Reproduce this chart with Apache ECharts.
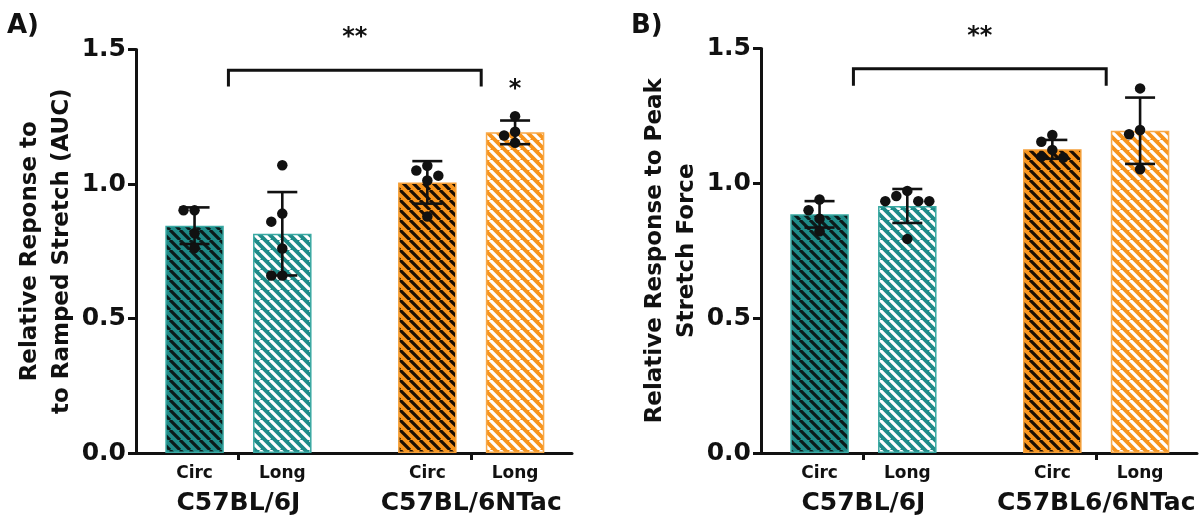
<!DOCTYPE html>
<html><head><meta charset="utf-8">
<script src="https://cdn.jsdelivr.net/npm/echarts@6/dist/echarts.min.js"></script>
<style>html,body{margin:0;padding:0;background:#fff}#c{width:1200px;height:521px}</style>
</head><body><div id="c"></div>
<script>
// ---------- data ----------
const subCats = ['Circ', 'Long'];
const groupsA = ['C57BL/6J', 'C57BL/6NTac'];
const groupsB = ['C57BL/6J', 'C57BL6/6NTac'];
const yTickLabels = ['0.0', '0.5', '1.0', '1.5'];

// Panel A: relative response to ramped stretch (AUC)
const meanA_Circ = [0.845, 1.006];
const meanA_Long = [0.815, 1.192];
const sdA_Circ = [0.068, 0.079];
const sdA_Long = [0.155, 0.044];
const dotsA_Circ = [[0.902, 0.902, 0.817, 0.762], [1.068, 1.050, 1.031, 1.013, 0.879]];
const dotsA_Long = [[1.070, 0.890, 0.860, 0.760, 0.660, 0.660], [1.252, 1.194, 1.180, 1.153]];

// Panel B: relative response to peak stretch force
const meanB_Circ = [0.885, 1.126];
const meanB_Long = [0.916, 1.195];
const sdB_Circ = [0.049, 0.035];
const sdB_Long = [0.063, 0.123];
const dotsB_Circ = [[0.940, 0.900, 0.869, 0.822], [1.179, 1.154, 1.124, 1.099, 1.096]];
const dotsB_Long = [[0.972, 0.953, 0.934, 0.934, 0.934, 0.794], [1.352, 1.198, 1.182, 1.052]];

// significance annotations: [fromGroup, toGroup, barTop, barDrop, textY]
const bracketA = [0, 1, 1.423, 1.362, 1.545];
const bracketB = [0, 1, 1.425, 1.362, 1.545];
const bracketText = '**';
// single star above panel A, group 1, Long: [group, y]
const starA = [1, 1.35];

// ---------- styles ----------
const FONT = 'DejaVu Sans';
const BAR_W = 58.5;
const BAR_GAP = 0.5;
const SLOT_OFF = (BAR_W + BAR_W * BAR_GAP) / 2;
const DOT = 10.5;
const SWARM_STEP = 11;
const TEAL = '#1f8b88';
const ORANGE = '#f7941d';

function stripe(bg, fg) {
  const s = 10;
  const cv = document.createElement('canvas');
  cv.width = s; cv.height = s;
  const ctx = cv.getContext('2d');
  ctx.fillStyle = bg; ctx.fillRect(0, 0, s, s);
  ctx.strokeStyle = fg; ctx.lineWidth = 3.2;
  ctx.beginPath();
  for (let k = -1; k <= 1; k++) { ctx.moveTo(k * s, 0); ctx.lineTo(k * s + s, s); }
  ctx.stroke();
  return { image: cv, repeat: 'repeat' };
}
const fills = [
  [stripe(TEAL, '#0b1a1a'), stripe(TEAL, '#ffffff')],
  [stripe(ORANGE, '#1a0d02'), stripe(ORANGE, '#ffffff')]
];
const borders = [['#3aa9a3', '#3aa9a3'], ['#f5a03a', '#f7a94a']];

function slotOffset(slot) { return slot === 0 ? -SLOT_OFF : SLOT_OFF; }

function barSeries(axis, slot, means) {
  return {
    type: 'bar', name: subCats[slot], xAxisIndex: axis, yAxisIndex: axis,
    barWidth: BAR_W, barGap: (BAR_GAP * 100) + '%', z: 2,
    data: means.map((m, g) => ({
      value: [g, m],
      itemStyle: { color: fills[g][slot], borderColor: borders[g][slot], borderWidth: 1.5 }
    })),
    label: {
      show: true, position: ['50%', '100%'], offset: [0, 12], align: 'center', verticalAlign: 'top',
      formatter: () => subCats[slot], fontFamily: FONT, fontWeight: 'bold', fontSize: 17, color: '#111'
    },
    animation: false
  };
}

function swarm(ys) {
  const placed = [];
  const order = [0, -1, 1, -2, 2, -3, 3];
  return ys.map(y => {
    for (const k of order) {
      const x = k * SWARM_STEP;
      if (placed.every(p => Math.hypot(p[0] - x, p[1] - y) >= SWARM_STEP)) {
        placed.push([x, y]);
        return x;
      }
    }
    placed.push([0, y]);
    return 0;
  });
}

function errDotSeries(axis, slot, means, sds, dots) {
  return {
    type: 'custom', xAxisIndex: axis, yAxisIndex: axis, z: 5,
    data: means.map((m, g) => [g, m]),
    encode: { x: 0, y: 1 },
    renderItem: (params, api) => {
      const i = params.dataIndex;
      const g = api.value(0), m = api.value(1), sd = sds[i];
      const cx = api.coord([g, m])[0] + slotOffset(slot);
      const top = api.coord([g, m + sd])[1];
      const bot = api.coord([g, m - sd])[1];
      const cap = 15;
      const ls = { stroke: '#111', lineWidth: 2.6 };
      const children = [
        { type: 'line', shape: { x1: cx, y1: top, x2: cx, y2: bot }, style: ls },
        { type: 'line', shape: { x1: cx - cap, y1: top, x2: cx + cap, y2: top }, style: ls },
        { type: 'line', shape: { x1: cx - cap, y1: bot, x2: cx + cap, y2: bot }, style: ls }
      ];
      const vals = dots[i].slice().sort((a, b) => b - a);
      const ys = vals.map(v => api.coord([g, v])[1]);
      const xs = swarm(ys);
      ys.forEach((y, j) => children.push({
        type: 'circle', shape: { cx: cx + xs[j], cy: y, r: DOT / 2 }, style: { fill: '#111' }
      }));
      return { type: 'group', children };
    },
    animation: false
  };
}

function bracketSeries(axis, br, extra) {
  return {
    type: 'custom', xAxisIndex: axis, yAxisIndex: axis, z: 6, clip: false,
    data: [[br[0], br[2]]],
    encode: { x: 0, y: 1 },
    renderItem: (params, api) => {
      const x0 = api.coord([br[0], br[2]])[0] - 10;
      const x1 = api.coord([br[1], br[2]])[0] + 10;
      const yt = api.coord([br[0], br[2]])[1];
      const yd = api.coord([br[0], br[3]])[1];
      const ytx = api.coord([br[0], br[4]])[1];
      const children = [
        { type: 'polyline', shape: { points: [[x0, yd], [x0, yt], [x1, yt], [x1, yd]] },
          style: { stroke: '#111', lineWidth: 3, fill: null } },
        { type: 'text', x: (x0 + x1) / 2, y: ytx,
          style: { text: bracketText, fontFamily: FONT, fontWeight: 'bold', fontSize: 24, fill: '#111',
                   align: 'center', verticalAlign: 'middle' } }
      ];
      if (extra) {
        const p = api.coord([extra[0], extra[1]]);
        children.push({ type: 'text', x: p[0] + SLOT_OFF, y: p[1],
          style: { text: '*', fontFamily: FONT, fontWeight: 'bold', fontSize: 24, fill: '#111',
                   align: 'center', verticalAlign: 'middle' } });
      }
      return { type: 'group', children };
    },
    animation: false
  };
}

const axisLineStyle = { color: '#111', width: 3 };
function xAxisDef(idx, groups) {
  return {
    type: 'value', gridIndex: idx, min: -0.44, max: 1.433,
    splitLine: { show: false },
    axisLine: { show: true, onZero: false, lineStyle: axisLineStyle },
    axisTick: { show: true, customValues: [0, 1], length: 7, lineStyle: { color: '#111', width: 3 } },
    axisLabel: { show: true, customValues: [0, 1], formatter: v => groups[Math.round(v)], margin: 38,
                 fontFamily: FONT, fontWeight: 'bold', fontSize: 25, color: '#111' }
  };
}
function yAxisDef(idx, name) {
  return {
    type: 'value', gridIndex: idx, min: 0, max: 1.5, interval: 0.5,
    splitLine: { show: false },
    axisLine: { show: true, onZero: false, lineStyle: axisLineStyle },
    axisTick: { show: true, length: 8, lineStyle: { color: '#111', width: 3 } },
    axisLabel: { margin: 10, formatter: v => yTickLabels[Math.round(v / 0.5)],
                 fontFamily: FONT, fontWeight: 'bold', fontSize: 25, color: '#111' },
    name: name, nameLocation: 'middle', nameRotate: 90, nameGap: 50,
    nameTextStyle: { fontFamily: FONT, fontWeight: 'bold', fontSize: 23, lineHeight: 32, color: '#111', align: 'center' }
  };
}

const chart = echarts.init(document.getElementById('c'), null, { renderer: 'canvas' });
chart.setOption({
  backgroundColor: '#fff',
  animation: false,
  title: [
    { text: 'A)', left: 2, top: 8, textStyle: { fontFamily: FONT, fontWeight: 'bold', fontSize: 26, color: '#111' } },
    { text: 'B)', left: 626, top: 8, textStyle: { fontFamily: FONT, fontWeight: 'bold', fontSize: 26, color: '#111' } }
  ],
  grid: [
    { left: 136, top: 49.5, width: 436, height: 403.5 },
    { left: 761, top: 48.5, width: 436, height: 404.5 }
  ],
  xAxis: [xAxisDef(0, groupsA), xAxisDef(1, groupsB)],
  yAxis: [
    yAxisDef(0, 'Relative Reponse to\nto Ramped Stretch (AUC)'),
    yAxisDef(1, 'Relative Response to Peak\nStretch Force')
  ],
  series: [
    barSeries(0, 0, meanA_Circ), barSeries(0, 1, meanA_Long),
    barSeries(1, 0, meanB_Circ), barSeries(1, 1, meanB_Long),
    errDotSeries(0, 0, meanA_Circ, sdA_Circ, dotsA_Circ),
    errDotSeries(0, 1, meanA_Long, sdA_Long, dotsA_Long),
    errDotSeries(1, 0, meanB_Circ, sdB_Circ, dotsB_Circ),
    errDotSeries(1, 1, meanB_Long, sdB_Long, dotsB_Long),
    bracketSeries(0, bracketA, starA),
    bracketSeries(1, bracketB, null)
  ]
});
</script>
</body></html>
